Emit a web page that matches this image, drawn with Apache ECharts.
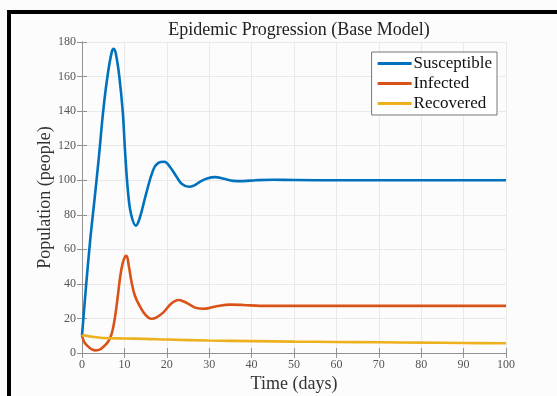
<!DOCTYPE html>
<html>
<head>
<meta charset="utf-8">
<script src="https://cdn.jsdelivr.net/npm/echarts@6/dist/echarts.min.js"></script>
<style>
  html, body { margin: 0; padding: 0; background: #fcfcfc; }
  #chart { width: 557px; height: 396px; }
</style>
</head>
<body>
<div id="chart"></div>
<script>
// Values
const seriesNames = ['Susceptible', 'Infected', 'Recovered'];

const susTime = [0, 1, 2, 3, 4, 5, 6, 7, 7.5, 8, 8.8, 9.6, 10.2, 10.9, 11.6, 12.7, 13.6, 15.1, 16.8, 18, 19.4, 20.8, 22.3, 23.5, 25.2, 26.5, 27.8, 29.5, 31.4, 33.5, 35.7, 38, 41, 45, 50, 60, 100];
const susValues = [10, 40, 67, 90, 114, 140, 160, 174, 176, 173, 160, 140, 115, 92, 80, 73.7, 78, 92, 106, 110, 110.7, 107.5, 102, 98, 96.2, 97, 99.1, 101, 101.8, 100.8, 99.6, 99.5, 100, 100.3, 100.1, 100, 100];

const infTime = [0, 0.5, 1, 1.5, 2, 3, 4, 5, 6, 6.6, 7.2, 7.8, 8.4, 9, 9.6, 10.2, 10.5, 11, 11.7, 12.5, 13.7, 15, 16.4, 17.5, 19.2, 21, 22.7, 24, 25.5, 27, 28.6, 30, 32, 35, 38, 42, 50, 100];
const infValues = [10, 6.5, 4.8, 3.7, 2.6, 1.5, 1.8, 3.5, 6, 8.5, 13, 21, 32, 44, 52, 56, 56.3, 51, 41, 33, 26.8, 22, 19.8, 20.5, 23.5, 28.5, 30.7, 29.8, 27.8, 26, 25.6, 26, 27.2, 28, 27.8, 27.3, 27.3, 27.3];

const recTime = [0, 0.5, 2, 5, 10, 15, 20, 30, 40, 50, 60, 70, 80, 90, 100];
const recValues = [10, 10.2, 9.5, 8.7, 8.4, 8.2, 7.8, 7.2, 6.9, 6.6, 6.4, 6.2, 6, 5.8, 5.6];

const colors = ['#0072BD', '#D95319', '#EDB120'];
const serif = '"Liberation Serif", "DejaVu Serif", serif';

function pairs(ts, vs) {
  return ts.map((t, i) => [t, vs[i]]);
}

const chart = echarts.init(document.getElementById('chart'), null, { renderer: 'canvas' });

// MATLAB-like box axes: ticks inside, grey lines, light grid
const boxAxis = {
  axisLine: { show: true, lineStyle: { color: '#939393', width: 1 } },
  axisTick: { show: true, inside: true, length: 5, lineStyle: { color: '#939393' } },
  axisLabel: { color: '#555', fontFamily: serif, fontSize: 12 },
  splitLine: { show: true, lineStyle: { color: '#e9e9e9', width: 1 } },
};

chart.setOption({
  backgroundColor: '#fcfcfc',
  animation: false,
  color: colors,
  title: {
    text: 'Epidemic Progression (Base Model)',
    left: 294,
    textAlign: 'center',
    top: 16,
    itemGap: 0,
    textStyle: { fontFamily: serif, fontWeight: 'normal', fontSize: 18, color: '#222' },
  },
  legend: {
    orient: 'vertical',
    right: 60,
    top: 52,
    padding: [3, 5, 3, 6],
    itemGap: 3,
    itemWidth: 34,
    itemHeight: 3,
    icon: 'rect',
    backgroundColor: '#fff',
    borderColor: '#777',
    borderWidth: 1,
    borderRadius: 0,
    textStyle: { fontFamily: serif, fontSize: 17, color: '#111', padding: [0, 0, 0, -3] },
    data: seriesNames,
  },
  grid: { left: 82, right: 51, top: 42, bottom: 43, show: false, outerBoundsMode: 'none' },
  xAxis: [
    {
      ...boxAxis,
      type: 'value',
      min: 0,
      max: 100,
      interval: 10,
      name: 'Time (days)',
      nameLocation: 'middle',
      nameGap: 22,
      nameMoveOverlap: false,
      nameTextStyle: { fontFamily: serif, fontSize: 18, color: '#333' },
      axisLabel: { ...boxAxis.axisLabel, margin: 6 },
    },
    {
      ...boxAxis,
      type: 'value',
      position: 'top',
      min: 0,
      max: 100,
      interval: 10,
      axisLabel: { show: false },
      splitLine: { show: false },
    },
  ],
  yAxis: [
    {
      ...boxAxis,
      type: 'value',
      min: 0,
      max: 180,
      interval: 20,
      name: 'Population (people)',
      nameLocation: 'middle',
      nameGap: 28,
      nameMoveOverlap: false,
      nameTextStyle: { fontFamily: serif, fontSize: 18, color: '#333' },
      axisLabel: { ...boxAxis.axisLabel, margin: 6 },
    },
    {
      ...boxAxis,
      type: 'value',
      position: 'right',
      min: 0,
      max: 180,
      interval: 20,
      axisLabel: { show: false },
      splitLine: { show: false },
    },
  ],
  series: [
    { name: seriesNames[0], type: 'line', data: pairs(susTime, susValues) },
    { name: seriesNames[1], type: 'line', data: pairs(infTime, infValues) },
    { name: seriesNames[2], type: 'line', data: pairs(recTime, recValues) },
  ].map(s => ({
    ...s,
    smooth: 0.4,
    showSymbol: false,
    lineStyle: { width: 2.6 },
    xAxisIndex: 0,
    yAxisIndex: 0,
  })),
  graphic: [
    // black frame on top and left edges of the picture
    { type: 'rect', shape: { x: 7, y: 10, width: 550, height: 4 }, style: { fill: '#000' } },
    { type: 'rect', shape: { x: 7, y: 10, width: 4, height: 386 }, style: { fill: '#000' } },
  ],
});
</script>
</body>
</html>
